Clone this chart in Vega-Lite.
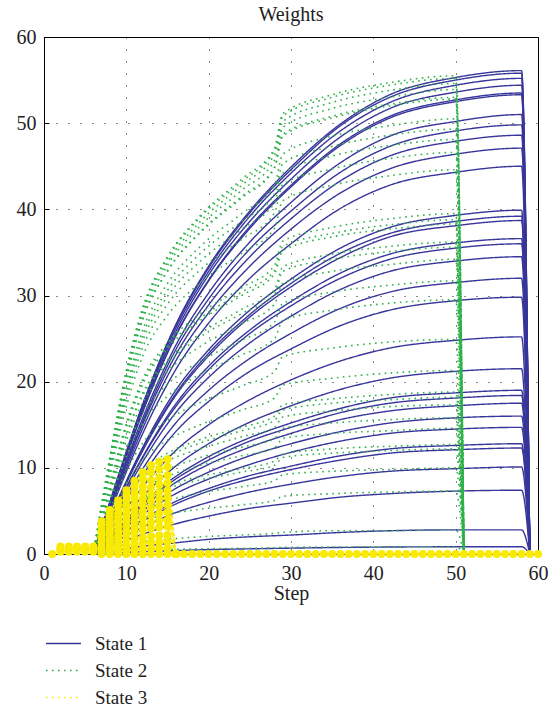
{
"$schema": "https://vega.github.io/schema/vega-lite/v6.json",
"width": 494, "height": 517,
"autosize": "none",
"padding": {"left": 44, "top": 37, "right": 19, "bottom": 155},
"background": "white",
"title": {"text": "Weights", "font": "Liberation Serif", "fontSize": 20, "fontWeight": "normal", "color": "#222", "offset": 2},
"datasets": {"d": [
{"s":1,"k":1,"x":6,"y":0},{"s":1,"k":1,"x":9,"y":9.0},{"s":1,"k":1,"x":12,"y":17.4},{"s":1,"k":1,"x":16,"y":26.6},{"s":1,"k":1,"x":20,"y":33.4},{"s":1,"k":1,"x":25,"y":39.8},{"s":1,"k":1,"x":30,"y":44.9},{"s":1,"k":1,"x":36,"y":49.9},{"s":1,"k":1,"x":42,"y":53.3},{"s":1,"k":1,"x":50,"y":55.3},{"s":1,"k":1,"x":58,"y":56.1},{"s":1,"k":1,"x":59,"y":0},
{"s":1,"k":2,"x":6,"y":0},{"s":1,"k":2,"x":9,"y":8.9},{"s":1,"k":2,"x":12,"y":17.3},{"s":1,"k":2,"x":16,"y":26.5},{"s":1,"k":2,"x":20,"y":33.2},{"s":1,"k":2,"x":25,"y":39.6},{"s":1,"k":2,"x":30,"y":44.6},{"s":1,"k":2,"x":36,"y":49.7},{"s":1,"k":2,"x":42,"y":53.0},{"s":1,"k":2,"x":50,"y":55.0},{"s":1,"k":2,"x":58,"y":55.8},{"s":1,"k":2,"x":59,"y":0},
{"s":1,"k":3,"x":6,"y":0},{"s":1,"k":3,"x":9,"y":8.8},{"s":1,"k":3,"x":12,"y":17.1},{"s":1,"k":3,"x":16,"y":26.2},{"s":1,"k":3,"x":20,"y":32.8},{"s":1,"k":3,"x":25,"y":39.2},{"s":1,"k":3,"x":30,"y":44.2},{"s":1,"k":3,"x":36,"y":49.1},{"s":1,"k":3,"x":42,"y":52.4},{"s":1,"k":3,"x":50,"y":54.4},{"s":1,"k":3,"x":58,"y":55.2},{"s":1,"k":3,"x":59,"y":0},
{"s":1,"k":4,"x":6,"y":0},{"s":1,"k":4,"x":9,"y":8.7},{"s":1,"k":4,"x":12,"y":16.9},{"s":1,"k":4,"x":16,"y":25.8},{"s":1,"k":4,"x":20,"y":32.4},{"s":1,"k":4,"x":25,"y":38.6},{"s":1,"k":4,"x":30,"y":43.5},{"s":1,"k":4,"x":36,"y":48.4},{"s":1,"k":4,"x":42,"y":51.7},{"s":1,"k":4,"x":50,"y":53.6},{"s":1,"k":4,"x":58,"y":54.4},{"s":1,"k":4,"x":59,"y":0},
{"s":1,"k":5,"x":6,"y":0},{"s":1,"k":5,"x":9,"y":8.6},{"s":1,"k":5,"x":12,"y":16.6},{"s":1,"k":5,"x":16,"y":25.4},{"s":1,"k":5,"x":20,"y":31.8},{"s":1,"k":5,"x":25,"y":38.0},{"s":1,"k":5,"x":30,"y":42.8},{"s":1,"k":5,"x":36,"y":47.6},{"s":1,"k":5,"x":42,"y":50.8},{"s":1,"k":5,"x":50,"y":52.7},{"s":1,"k":5,"x":58,"y":53.5},{"s":1,"k":5,"x":59,"y":0},
{"s":1,"k":6,"x":6,"y":0},{"s":1,"k":6,"x":9,"y":8.5},{"s":1,"k":6,"x":12,"y":16.5},{"s":1,"k":6,"x":16,"y":25.3},{"s":1,"k":6,"x":20,"y":31.7},{"s":1,"k":6,"x":25,"y":37.8},{"s":1,"k":6,"x":30,"y":42.6},{"s":1,"k":6,"x":36,"y":47.4},{"s":1,"k":6,"x":42,"y":50.6},{"s":1,"k":6,"x":50,"y":52.5},{"s":1,"k":6,"x":58,"y":53.3},{"s":1,"k":6,"x":59,"y":0},
{"s":1,"k":7,"x":6,"y":0},{"s":1,"k":7,"x":9,"y":8.2},{"s":1,"k":7,"x":12,"y":15.8},{"s":1,"k":7,"x":16,"y":24.2},{"s":1,"k":7,"x":20,"y":30.3},{"s":1,"k":7,"x":25,"y":36.2},{"s":1,"k":7,"x":30,"y":40.8},{"s":1,"k":7,"x":36,"y":45.4},{"s":1,"k":7,"x":42,"y":48.5},{"s":1,"k":7,"x":50,"y":50.2},{"s":1,"k":7,"x":58,"y":51.0},{"s":1,"k":7,"x":59,"y":0},
{"s":1,"k":8,"x":6,"y":0},{"s":1,"k":8,"x":9,"y":8.0},{"s":1,"k":8,"x":12,"y":15.4},{"s":1,"k":8,"x":16,"y":23.7},{"s":1,"k":8,"x":20,"y":29.6},{"s":1,"k":8,"x":25,"y":35.4},{"s":1,"k":8,"x":30,"y":39.8},{"s":1,"k":8,"x":36,"y":44.3},{"s":1,"k":8,"x":42,"y":47.3},{"s":1,"k":8,"x":50,"y":49.1},{"s":1,"k":8,"x":58,"y":49.8},{"s":1,"k":8,"x":59,"y":0},
{"s":1,"k":9,"x":6,"y":0},{"s":1,"k":9,"x":9,"y":7.8},{"s":1,"k":9,"x":12,"y":15.1},{"s":1,"k":9,"x":16,"y":23.1},{"s":1,"k":9,"x":20,"y":28.9},{"s":1,"k":9,"x":25,"y":34.5},{"s":1,"k":9,"x":30,"y":38.9},{"s":1,"k":9,"x":36,"y":43.3},{"s":1,"k":9,"x":42,"y":46.2},{"s":1,"k":9,"x":50,"y":47.9},{"s":1,"k":9,"x":58,"y":48.6},{"s":1,"k":9,"x":59,"y":0},
{"s":1,"k":10,"x":6,"y":0},{"s":1,"k":10,"x":9,"y":7.5},{"s":1,"k":10,"x":12,"y":14.6},{"s":1,"k":10,"x":16,"y":22.4},{"s":1,"k":10,"x":20,"y":28.0},{"s":1,"k":10,"x":25,"y":33.4},{"s":1,"k":10,"x":30,"y":37.7},{"s":1,"k":10,"x":36,"y":41.9},{"s":1,"k":10,"x":42,"y":44.7},{"s":1,"k":10,"x":50,"y":46.4},{"s":1,"k":10,"x":58,"y":47.1},{"s":1,"k":10,"x":59,"y":0},
{"s":1,"k":11,"x":6,"y":0},{"s":1,"k":11,"x":9,"y":7.2},{"s":1,"k":11,"x":12,"y":14.0},{"s":1,"k":11,"x":16,"y":21.4},{"s":1,"k":11,"x":20,"y":26.8},{"s":1,"k":11,"x":25,"y":32.0},{"s":1,"k":11,"x":30,"y":36.0},{"s":1,"k":11,"x":36,"y":40.1},{"s":1,"k":11,"x":42,"y":42.8},{"s":1,"k":11,"x":50,"y":44.3},{"s":1,"k":11,"x":58,"y":45.0},{"s":1,"k":11,"x":59,"y":0},
{"s":1,"k":12,"x":6,"y":0},{"s":1,"k":12,"x":9,"y":6.4},{"s":1,"k":12,"x":12,"y":12.4},{"s":1,"k":12,"x":16,"y":19.0},{"s":1,"k":12,"x":20,"y":23.7},{"s":1,"k":12,"x":25,"y":28.3},{"s":1,"k":12,"x":30,"y":31.9},{"s":1,"k":12,"x":36,"y":35.5},{"s":1,"k":12,"x":42,"y":37.9},{"s":1,"k":12,"x":50,"y":39.3},{"s":1,"k":12,"x":58,"y":39.9},{"s":1,"k":12,"x":59,"y":0},
{"s":1,"k":13,"x":6,"y":0},{"s":1,"k":13,"x":9,"y":6.3},{"s":1,"k":13,"x":12,"y":12.2},{"s":1,"k":13,"x":16,"y":18.6},{"s":1,"k":13,"x":20,"y":23.3},{"s":1,"k":13,"x":25,"y":27.8},{"s":1,"k":13,"x":30,"y":31.4},{"s":1,"k":13,"x":36,"y":34.9},{"s":1,"k":13,"x":42,"y":37.2},{"s":1,"k":13,"x":50,"y":38.6},{"s":1,"k":13,"x":58,"y":39.2},{"s":1,"k":13,"x":59,"y":0},
{"s":1,"k":14,"x":6,"y":0},{"s":1,"k":14,"x":9,"y":6.2},{"s":1,"k":14,"x":12,"y":12.0},{"s":1,"k":14,"x":16,"y":18.4},{"s":1,"k":14,"x":20,"y":23.0},{"s":1,"k":14,"x":25,"y":27.5},{"s":1,"k":14,"x":30,"y":31.0},{"s":1,"k":14,"x":36,"y":34.4},{"s":1,"k":14,"x":42,"y":36.8},{"s":1,"k":14,"x":50,"y":38.1},{"s":1,"k":14,"x":58,"y":38.7},{"s":1,"k":14,"x":59,"y":0},
{"s":1,"k":15,"x":6,"y":0},{"s":1,"k":15,"x":9,"y":5.9},{"s":1,"k":15,"x":12,"y":11.3},{"s":1,"k":15,"x":16,"y":17.4},{"s":1,"k":15,"x":20,"y":21.8},{"s":1,"k":15,"x":25,"y":26.0},{"s":1,"k":15,"x":30,"y":29.3},{"s":1,"k":15,"x":36,"y":32.6},{"s":1,"k":15,"x":42,"y":34.8},{"s":1,"k":15,"x":50,"y":36.1},{"s":1,"k":15,"x":58,"y":36.6},{"s":1,"k":15,"x":59,"y":0},
{"s":1,"k":16,"x":6,"y":0},{"s":1,"k":16,"x":9,"y":5.8},{"s":1,"k":16,"x":12,"y":11.2},{"s":1,"k":16,"x":16,"y":17.1},{"s":1,"k":16,"x":20,"y":21.4},{"s":1,"k":16,"x":25,"y":25.6},{"s":1,"k":16,"x":30,"y":28.8},{"s":1,"k":16,"x":36,"y":32.0},{"s":1,"k":16,"x":42,"y":34.2},{"s":1,"k":16,"x":50,"y":35.5},{"s":1,"k":16,"x":58,"y":36.0},{"s":1,"k":16,"x":59,"y":0},
{"s":1,"k":17,"x":6,"y":0},{"s":1,"k":17,"x":9,"y":5.5},{"s":1,"k":17,"x":12,"y":10.7},{"s":1,"k":17,"x":16,"y":16.4},{"s":1,"k":17,"x":20,"y":20.5},{"s":1,"k":17,"x":25,"y":24.5},{"s":1,"k":17,"x":30,"y":27.6},{"s":1,"k":17,"x":36,"y":30.7},{"s":1,"k":17,"x":42,"y":32.8},{"s":1,"k":17,"x":50,"y":34.0},{"s":1,"k":17,"x":58,"y":34.5},{"s":1,"k":17,"x":59,"y":0},
{"s":1,"k":18,"x":6,"y":0},{"s":1,"k":18,"x":9,"y":5.1},{"s":1,"k":18,"x":12,"y":9.9},{"s":1,"k":18,"x":16,"y":15.2},{"s":1,"k":18,"x":20,"y":19.0},{"s":1,"k":18,"x":25,"y":22.7},{"s":1,"k":18,"x":30,"y":25.6},{"s":1,"k":18,"x":36,"y":28.5},{"s":1,"k":18,"x":42,"y":30.4},{"s":1,"k":18,"x":50,"y":31.5},{"s":1,"k":18,"x":58,"y":32.0},{"s":1,"k":18,"x":59,"y":0},
{"s":1,"k":19,"x":6,"y":0},{"s":1,"k":19,"x":9,"y":4.8},{"s":1,"k":19,"x":12,"y":9.2},{"s":1,"k":19,"x":16,"y":14.2},{"s":1,"k":19,"x":20,"y":17.7},{"s":1,"k":19,"x":25,"y":21.2},{"s":1,"k":19,"x":30,"y":23.8},{"s":1,"k":19,"x":36,"y":26.5},{"s":1,"k":19,"x":42,"y":28.3},{"s":1,"k":19,"x":50,"y":29.4},{"s":1,"k":19,"x":58,"y":29.8},{"s":1,"k":19,"x":59,"y":0},
{"s":1,"k":20,"x":6,"y":0},{"s":1,"k":20,"x":9,"y":4.0},{"s":1,"k":20,"x":12,"y":7.8},{"s":1,"k":20,"x":16,"y":12.0},{"s":1,"k":20,"x":20,"y":15.0},{"s":1,"k":20,"x":25,"y":17.9},{"s":1,"k":20,"x":30,"y":20.2},{"s":1,"k":20,"x":36,"y":22.4},{"s":1,"k":20,"x":42,"y":23.9},{"s":1,"k":20,"x":50,"y":24.8},{"s":1,"k":20,"x":58,"y":25.2},{"s":1,"k":20,"x":59,"y":0},
{"s":1,"k":21,"x":6,"y":0},{"s":1,"k":21,"x":9,"y":3.4},{"s":1,"k":21,"x":12,"y":6.7},{"s":1,"k":21,"x":16,"y":10.2},{"s":1,"k":21,"x":20,"y":12.8},{"s":1,"k":21,"x":25,"y":15.3},{"s":1,"k":21,"x":30,"y":17.2},{"s":1,"k":21,"x":36,"y":19.1},{"s":1,"k":21,"x":42,"y":20.4},{"s":1,"k":21,"x":50,"y":21.2},{"s":1,"k":21,"x":58,"y":21.5},{"s":1,"k":21,"x":59,"y":0},
{"s":1,"k":22,"x":6,"y":0},{"s":1,"k":22,"x":9,"y":3.0},{"s":1,"k":22,"x":12,"y":5.9},{"s":1,"k":22,"x":16,"y":9.0},{"s":1,"k":22,"x":20,"y":11.3},{"s":1,"k":22,"x":25,"y":13.5},{"s":1,"k":22,"x":30,"y":15.2},{"s":1,"k":22,"x":36,"y":16.9},{"s":1,"k":22,"x":42,"y":18.1},{"s":1,"k":22,"x":50,"y":18.7},{"s":1,"k":22,"x":58,"y":19.0},{"s":1,"k":22,"x":59,"y":0},
{"s":1,"k":23,"x":6,"y":0},{"s":1,"k":23,"x":9,"y":2.9},{"s":1,"k":23,"x":12,"y":5.7},{"s":1,"k":23,"x":16,"y":8.7},{"s":1,"k":23,"x":20,"y":10.9},{"s":1,"k":23,"x":25,"y":13.1},{"s":1,"k":23,"x":30,"y":14.7},{"s":1,"k":23,"x":36,"y":16.4},{"s":1,"k":23,"x":42,"y":17.5},{"s":1,"k":23,"x":50,"y":18.1},{"s":1,"k":23,"x":58,"y":18.4},{"s":1,"k":23,"x":59,"y":0},
{"s":1,"k":24,"x":6,"y":0},{"s":1,"k":24,"x":9,"y":2.8},{"s":1,"k":24,"x":12,"y":5.4},{"s":1,"k":24,"x":16,"y":8.3},{"s":1,"k":24,"x":20,"y":10.4},{"s":1,"k":24,"x":25,"y":12.4},{"s":1,"k":24,"x":30,"y":14.0},{"s":1,"k":24,"x":36,"y":15.6},{"s":1,"k":24,"x":42,"y":16.6},{"s":1,"k":24,"x":50,"y":17.2},{"s":1,"k":24,"x":58,"y":17.5},{"s":1,"k":24,"x":59,"y":0},
{"s":1,"k":25,"x":6,"y":0},{"s":1,"k":25,"x":9,"y":2.6},{"s":1,"k":25,"x":12,"y":5.0},{"s":1,"k":25,"x":16,"y":7.6},{"s":1,"k":25,"x":20,"y":9.5},{"s":1,"k":25,"x":25,"y":11.4},{"s":1,"k":25,"x":30,"y":12.8},{"s":1,"k":25,"x":36,"y":14.2},{"s":1,"k":25,"x":42,"y":15.2},{"s":1,"k":25,"x":50,"y":15.8},{"s":1,"k":25,"x":58,"y":16.0},{"s":1,"k":25,"x":59,"y":0},
{"s":1,"k":26,"x":6,"y":0},{"s":1,"k":26,"x":9,"y":2.4},{"s":1,"k":26,"x":12,"y":4.6},{"s":1,"k":26,"x":16,"y":7.0},{"s":1,"k":26,"x":20,"y":8.7},{"s":1,"k":26,"x":25,"y":10.4},{"s":1,"k":26,"x":30,"y":11.8},{"s":1,"k":26,"x":36,"y":13.1},{"s":1,"k":26,"x":42,"y":14.0},{"s":1,"k":26,"x":50,"y":14.5},{"s":1,"k":26,"x":58,"y":14.7},{"s":1,"k":26,"x":59,"y":0},
{"s":1,"k":27,"x":6,"y":0},{"s":1,"k":27,"x":9,"y":2.0},{"s":1,"k":27,"x":12,"y":4.0},{"s":1,"k":27,"x":16,"y":6.1},{"s":1,"k":27,"x":20,"y":7.6},{"s":1,"k":27,"x":25,"y":9.1},{"s":1,"k":27,"x":30,"y":10.2},{"s":1,"k":27,"x":36,"y":11.4},{"s":1,"k":27,"x":42,"y":12.2},{"s":1,"k":27,"x":50,"y":12.6},{"s":1,"k":27,"x":58,"y":12.8},{"s":1,"k":27,"x":59,"y":0},
{"s":1,"k":28,"x":6,"y":0},{"s":1,"k":28,"x":9,"y":2.0},{"s":1,"k":28,"x":12,"y":3.8},{"s":1,"k":28,"x":16,"y":5.8},{"s":1,"k":28,"x":20,"y":7.3},{"s":1,"k":28,"x":25,"y":8.7},{"s":1,"k":28,"x":30,"y":9.8},{"s":1,"k":28,"x":36,"y":10.9},{"s":1,"k":28,"x":42,"y":11.7},{"s":1,"k":28,"x":50,"y":12.1},{"s":1,"k":28,"x":58,"y":12.3},{"s":1,"k":28,"x":59,"y":0},
{"s":1,"k":29,"x":6,"y":0},{"s":1,"k":29,"x":9,"y":1.6},{"s":1,"k":29,"x":12,"y":3.1},{"s":1,"k":29,"x":16,"y":4.8},{"s":1,"k":29,"x":20,"y":6.0},{"s":1,"k":29,"x":25,"y":7.2},{"s":1,"k":29,"x":30,"y":8.1},{"s":1,"k":29,"x":36,"y":9.0},{"s":1,"k":29,"x":42,"y":9.6},{"s":1,"k":29,"x":50,"y":9.9},{"s":1,"k":29,"x":58,"y":10.1},{"s":1,"k":29,"x":59,"y":0},
{"s":1,"k":30,"x":6,"y":0},{"s":1,"k":30,"x":9,"y":1.2},{"s":1,"k":30,"x":12,"y":2.3},{"s":1,"k":30,"x":16,"y":3.5},{"s":1,"k":30,"x":20,"y":4.4},{"s":1,"k":30,"x":25,"y":5.3},{"s":1,"k":30,"x":30,"y":5.9},{"s":1,"k":30,"x":36,"y":6.6},{"s":1,"k":30,"x":42,"y":7.0},{"s":1,"k":30,"x":50,"y":7.3},{"s":1,"k":30,"x":58,"y":7.4},{"s":1,"k":30,"x":59,"y":0},
{"s":1,"k":31,"x":6,"y":0},{"s":1,"k":31,"x":9,"y":0.45},{"s":1,"k":31,"x":12,"y":0.9},{"s":1,"k":31,"x":16,"y":1.3},{"s":1,"k":31,"x":20,"y":1.7},{"s":1,"k":31,"x":25,"y":2.0},{"s":1,"k":31,"x":30,"y":2.2},{"s":1,"k":31,"x":36,"y":2.5},{"s":1,"k":31,"x":42,"y":2.7},{"s":1,"k":31,"x":50,"y":2.8},{"s":1,"k":31,"x":58,"y":2.8},{"s":1,"k":31,"x":59,"y":0},
{"s":1,"k":32,"x":6,"y":0},{"s":1,"k":32,"x":9,"y":0.14},{"s":1,"k":32,"x":12,"y":0.26},{"s":1,"k":32,"x":16,"y":0.4},{"s":1,"k":32,"x":20,"y":0.51},{"s":1,"k":32,"x":25,"y":0.6},{"s":1,"k":32,"x":30,"y":0.68},{"s":1,"k":32,"x":36,"y":0.76},{"s":1,"k":32,"x":42,"y":0.81},{"s":1,"k":32,"x":50,"y":0.84},{"s":1,"k":32,"x":58,"y":0.85},{"s":1,"k":32,"x":59,"y":0},

{"s":2,"k":1,"x":6,"y":0},{"s":2,"k":1,"x":8,"y":11.2},{"s":2,"k":1,"x":10,"y":21.3},{"s":2,"k":1,"x":12,"y":28.6},{"s":2,"k":1,"x":15,"y":34.5},{"s":2,"k":1,"x":19,"y":39.3},{"s":2,"k":1,"x":24,"y":43.5},{"s":2,"k":1,"x":28,"y":47.1},{"s":2,"k":1,"x":29,"y":51.1},{"s":2,"k":1,"x":35,"y":53.3},{"s":2,"k":1,"x":42,"y":54.7},{"s":2,"k":1,"x":50,"y":55.5},{"s":2,"k":1,"x":51,"y":0},
{"s":2,"k":2,"x":6,"y":0},{"s":2,"k":2,"x":8,"y":11.2},{"s":2,"k":2,"x":10,"y":21.2},{"s":2,"k":2,"x":12,"y":28.5},{"s":2,"k":2,"x":15,"y":34.3},{"s":2,"k":2,"x":19,"y":39.1},{"s":2,"k":2,"x":24,"y":43.2},{"s":2,"k":2,"x":28,"y":46.9},{"s":2,"k":2,"x":29,"y":50.8},{"s":2,"k":2,"x":35,"y":53.0},{"s":2,"k":2,"x":42,"y":54.4},{"s":2,"k":2,"x":50,"y":55.2},{"s":2,"k":2,"x":51,"y":0},
{"s":2,"k":3,"x":6,"y":0},{"s":2,"k":3,"x":8,"y":11.0},{"s":2,"k":3,"x":10,"y":21.0},{"s":2,"k":3,"x":12,"y":28.2},{"s":2,"k":3,"x":15,"y":33.9},{"s":2,"k":3,"x":19,"y":38.6},{"s":2,"k":3,"x":24,"y":42.8},{"s":2,"k":3,"x":28,"y":46.4},{"s":2,"k":3,"x":29,"y":50.2},{"s":2,"k":3,"x":35,"y":52.4},{"s":2,"k":3,"x":42,"y":53.8},{"s":2,"k":3,"x":50,"y":54.6},{"s":2,"k":3,"x":51,"y":0},
{"s":2,"k":4,"x":6,"y":0},{"s":2,"k":4,"x":8,"y":10.9},{"s":2,"k":4,"x":10,"y":20.7},{"s":2,"k":4,"x":12,"y":27.7},{"s":2,"k":4,"x":15,"y":33.5},{"s":2,"k":4,"x":19,"y":38.1},{"s":2,"k":4,"x":24,"y":42.2},{"s":2,"k":4,"x":28,"y":45.7},{"s":2,"k":4,"x":29,"y":49.5},{"s":2,"k":4,"x":35,"y":51.7},{"s":2,"k":4,"x":42,"y":53.0},{"s":2,"k":4,"x":50,"y":53.9},{"s":2,"k":4,"x":51,"y":0},
{"s":2,"k":5,"x":6,"y":0},{"s":2,"k":5,"x":8,"y":10.7},{"s":2,"k":5,"x":10,"y":20.3},{"s":2,"k":5,"x":12,"y":27.3},{"s":2,"k":5,"x":15,"y":32.9},{"s":2,"k":5,"x":19,"y":37.4},{"s":2,"k":5,"x":24,"y":41.5},{"s":2,"k":5,"x":28,"y":44.9},{"s":2,"k":5,"x":29,"y":48.7},{"s":2,"k":5,"x":35,"y":50.8},{"s":2,"k":5,"x":42,"y":52.2},{"s":2,"k":5,"x":50,"y":53.0},{"s":2,"k":5,"x":51,"y":0},
{"s":2,"k":6,"x":6,"y":0},{"s":2,"k":6,"x":8,"y":10.7},{"s":2,"k":6,"x":10,"y":20.3},{"s":2,"k":6,"x":12,"y":27.2},{"s":2,"k":6,"x":15,"y":32.8},{"s":2,"k":6,"x":19,"y":37.3},{"s":2,"k":6,"x":24,"y":41.3},{"s":2,"k":6,"x":28,"y":44.8},{"s":2,"k":6,"x":29,"y":48.5},{"s":2,"k":6,"x":35,"y":50.6},{"s":2,"k":6,"x":42,"y":52.0},{"s":2,"k":6,"x":50,"y":52.8},{"s":2,"k":6,"x":51,"y":0},
{"s":2,"k":7,"x":6,"y":0},{"s":2,"k":7,"x":8,"y":10.2},{"s":2,"k":7,"x":10,"y":19.4},{"s":2,"k":7,"x":12,"y":26.0},{"s":2,"k":7,"x":15,"y":31.4},{"s":2,"k":7,"x":19,"y":35.7},{"s":2,"k":7,"x":24,"y":39.5},{"s":2,"k":7,"x":28,"y":42.8},{"s":2,"k":7,"x":29,"y":46.4},{"s":2,"k":7,"x":35,"y":48.5},{"s":2,"k":7,"x":42,"y":49.7},{"s":2,"k":7,"x":50,"y":50.5},{"s":2,"k":7,"x":51,"y":0},
{"s":2,"k":8,"x":6,"y":0},{"s":2,"k":8,"x":8,"y":10.0},{"s":2,"k":8,"x":10,"y":18.9},{"s":2,"k":8,"x":12,"y":25.4},{"s":2,"k":8,"x":15,"y":30.6},{"s":2,"k":8,"x":19,"y":34.9},{"s":2,"k":8,"x":24,"y":38.6},{"s":2,"k":8,"x":28,"y":41.8},{"s":2,"k":8,"x":29,"y":45.3},{"s":2,"k":8,"x":35,"y":47.3},{"s":2,"k":8,"x":42,"y":48.6},{"s":2,"k":8,"x":50,"y":49.3},{"s":2,"k":8,"x":51,"y":0},
{"s":2,"k":9,"x":6,"y":0},{"s":2,"k":9,"x":8,"y":9.7},{"s":2,"k":9,"x":10,"y":18.5},{"s":2,"k":9,"x":12,"y":24.8},{"s":2,"k":9,"x":15,"y":29.9},{"s":2,"k":9,"x":19,"y":34.0},{"s":2,"k":9,"x":24,"y":37.7},{"s":2,"k":9,"x":28,"y":40.8},{"s":2,"k":9,"x":29,"y":44.2},{"s":2,"k":9,"x":35,"y":46.2},{"s":2,"k":9,"x":42,"y":47.4},{"s":2,"k":9,"x":50,"y":48.1},{"s":2,"k":9,"x":51,"y":0},
{"s":2,"k":10,"x":6,"y":0},{"s":2,"k":10,"x":8,"y":9.4},{"s":2,"k":10,"x":10,"y":17.9},{"s":2,"k":10,"x":12,"y":24.0},{"s":2,"k":10,"x":15,"y":29.0},{"s":2,"k":10,"x":19,"y":33.0},{"s":2,"k":10,"x":24,"y":36.5},{"s":2,"k":10,"x":28,"y":39.6},{"s":2,"k":10,"x":29,"y":42.9},{"s":2,"k":10,"x":35,"y":44.7},{"s":2,"k":10,"x":42,"y":45.9},{"s":2,"k":10,"x":50,"y":46.6},{"s":2,"k":10,"x":51,"y":0},
{"s":2,"k":11,"x":6,"y":0},{"s":2,"k":11,"x":8,"y":9.0},{"s":2,"k":11,"x":10,"y":17.1},{"s":2,"k":11,"x":12,"y":23.0},{"s":2,"k":11,"x":15,"y":27.7},{"s":2,"k":11,"x":19,"y":31.5},{"s":2,"k":11,"x":24,"y":34.9},{"s":2,"k":11,"x":28,"y":37.8},{"s":2,"k":11,"x":29,"y":41.0},{"s":2,"k":11,"x":35,"y":42.8},{"s":2,"k":11,"x":42,"y":43.9},{"s":2,"k":11,"x":50,"y":44.6},{"s":2,"k":11,"x":51,"y":0},
{"s":2,"k":12,"x":6,"y":0},{"s":2,"k":12,"x":8,"y":8.0},{"s":2,"k":12,"x":10,"y":15.2},{"s":2,"k":12,"x":12,"y":20.3},{"s":2,"k":12,"x":15,"y":24.5},{"s":2,"k":12,"x":19,"y":27.9},{"s":2,"k":12,"x":24,"y":30.9},{"s":2,"k":12,"x":28,"y":33.5},{"s":2,"k":12,"x":29,"y":36.3},{"s":2,"k":12,"x":35,"y":37.9},{"s":2,"k":12,"x":42,"y":38.9},{"s":2,"k":12,"x":50,"y":39.5},{"s":2,"k":12,"x":51,"y":0},
{"s":2,"k":13,"x":6,"y":0},{"s":2,"k":13,"x":8,"y":7.8},{"s":2,"k":13,"x":10,"y":14.9},{"s":2,"k":13,"x":12,"y":20.0},{"s":2,"k":13,"x":15,"y":24.1},{"s":2,"k":13,"x":19,"y":27.4},{"s":2,"k":13,"x":24,"y":30.4},{"s":2,"k":13,"x":28,"y":32.9},{"s":2,"k":13,"x":29,"y":35.7},{"s":2,"k":13,"x":35,"y":37.2},{"s":2,"k":13,"x":42,"y":38.2},{"s":2,"k":13,"x":50,"y":38.8},{"s":2,"k":13,"x":51,"y":0},
{"s":2,"k":14,"x":6,"y":0},{"s":2,"k":14,"x":8,"y":7.7},{"s":2,"k":14,"x":10,"y":14.7},{"s":2,"k":14,"x":12,"y":19.7},{"s":2,"k":14,"x":15,"y":23.8},{"s":2,"k":14,"x":19,"y":27.1},{"s":2,"k":14,"x":24,"y":30.0},{"s":2,"k":14,"x":28,"y":32.5},{"s":2,"k":14,"x":29,"y":35.2},{"s":2,"k":14,"x":35,"y":36.8},{"s":2,"k":14,"x":42,"y":37.7},{"s":2,"k":14,"x":50,"y":38.3},{"s":2,"k":14,"x":51,"y":0},
{"s":2,"k":15,"x":6,"y":0},{"s":2,"k":15,"x":8,"y":7.3},{"s":2,"k":15,"x":10,"y":13.9},{"s":2,"k":15,"x":12,"y":18.7},{"s":2,"k":15,"x":15,"y":22.5},{"s":2,"k":15,"x":19,"y":25.6},{"s":2,"k":15,"x":24,"y":28.4},{"s":2,"k":15,"x":28,"y":30.7},{"s":2,"k":15,"x":29,"y":33.3},{"s":2,"k":15,"x":35,"y":34.8},{"s":2,"k":15,"x":42,"y":35.7},{"s":2,"k":15,"x":50,"y":36.2},{"s":2,"k":15,"x":51,"y":0},
{"s":2,"k":16,"x":6,"y":0},{"s":2,"k":16,"x":8,"y":7.2},{"s":2,"k":16,"x":10,"y":13.7},{"s":2,"k":16,"x":12,"y":18.4},{"s":2,"k":16,"x":15,"y":22.1},{"s":2,"k":16,"x":19,"y":25.2},{"s":2,"k":16,"x":24,"y":27.9},{"s":2,"k":16,"x":28,"y":30.2},{"s":2,"k":16,"x":29,"y":32.8},{"s":2,"k":16,"x":35,"y":34.2},{"s":2,"k":16,"x":42,"y":35.1},{"s":2,"k":16,"x":50,"y":35.6},{"s":2,"k":16,"x":51,"y":0},
{"s":2,"k":17,"x":6,"y":0},{"s":2,"k":17,"x":8,"y":6.9},{"s":2,"k":17,"x":10,"y":13.1},{"s":2,"k":17,"x":12,"y":17.6},{"s":2,"k":17,"x":15,"y":21.2},{"s":2,"k":17,"x":19,"y":24.1},{"s":2,"k":17,"x":24,"y":26.7},{"s":2,"k":17,"x":28,"y":29.0},{"s":2,"k":17,"x":29,"y":31.4},{"s":2,"k":17,"x":35,"y":32.8},{"s":2,"k":17,"x":42,"y":33.6},{"s":2,"k":17,"x":50,"y":34.2},{"s":2,"k":17,"x":51,"y":0},
{"s":2,"k":18,"x":6,"y":0},{"s":2,"k":18,"x":8,"y":6.4},{"s":2,"k":18,"x":10,"y":12.2},{"s":2,"k":18,"x":12,"y":16.3},{"s":2,"k":18,"x":15,"y":19.7},{"s":2,"k":18,"x":19,"y":22.4},{"s":2,"k":18,"x":24,"y":24.8},{"s":2,"k":18,"x":28,"y":26.9},{"s":2,"k":18,"x":29,"y":29.1},{"s":2,"k":18,"x":35,"y":30.4},{"s":2,"k":18,"x":42,"y":31.2},{"s":2,"k":18,"x":50,"y":31.7},{"s":2,"k":18,"x":51,"y":0},
{"s":2,"k":19,"x":6,"y":0},{"s":2,"k":19,"x":8,"y":6.0},{"s":2,"k":19,"x":10,"y":11.3},{"s":2,"k":19,"x":12,"y":15.2},{"s":2,"k":19,"x":15,"y":18.3},{"s":2,"k":19,"x":19,"y":20.9},{"s":2,"k":19,"x":24,"y":23.1},{"s":2,"k":19,"x":28,"y":25.0},{"s":2,"k":19,"x":29,"y":27.1},{"s":2,"k":19,"x":35,"y":28.3},{"s":2,"k":19,"x":42,"y":29.1},{"s":2,"k":19,"x":50,"y":29.5},{"s":2,"k":19,"x":51,"y":0},
{"s":2,"k":20,"x":6,"y":0},{"s":2,"k":20,"x":8,"y":5.0},{"s":2,"k":20,"x":10,"y":9.6},{"s":2,"k":20,"x":12,"y":12.9},{"s":2,"k":20,"x":15,"y":15.5},{"s":2,"k":20,"x":19,"y":17.6},{"s":2,"k":20,"x":24,"y":19.5},{"s":2,"k":20,"x":28,"y":21.2},{"s":2,"k":20,"x":29,"y":22.9},{"s":2,"k":20,"x":35,"y":23.9},{"s":2,"k":20,"x":42,"y":24.6},{"s":2,"k":20,"x":50,"y":24.9},{"s":2,"k":20,"x":51,"y":0},
{"s":2,"k":21,"x":6,"y":0},{"s":2,"k":21,"x":8,"y":4.3},{"s":2,"k":21,"x":10,"y":8.2},{"s":2,"k":21,"x":12,"y":11.0},{"s":2,"k":21,"x":15,"y":13.2},{"s":2,"k":21,"x":19,"y":15.0},{"s":2,"k":21,"x":24,"y":16.7},{"s":2,"k":21,"x":28,"y":18.1},{"s":2,"k":21,"x":29,"y":19.6},{"s":2,"k":21,"x":35,"y":20.4},{"s":2,"k":21,"x":42,"y":21.0},{"s":2,"k":21,"x":50,"y":21.3},{"s":2,"k":21,"x":51,"y":0},
{"s":2,"k":22,"x":6,"y":0},{"s":2,"k":22,"x":8,"y":3.8},{"s":2,"k":22,"x":10,"y":7.2},{"s":2,"k":22,"x":12,"y":9.7},{"s":2,"k":22,"x":15,"y":11.7},{"s":2,"k":22,"x":19,"y":13.3},{"s":2,"k":22,"x":24,"y":14.7},{"s":2,"k":22,"x":28,"y":16.0},{"s":2,"k":22,"x":29,"y":17.3},{"s":2,"k":22,"x":35,"y":18.0},{"s":2,"k":22,"x":42,"y":18.5},{"s":2,"k":22,"x":50,"y":18.8},{"s":2,"k":22,"x":51,"y":0},
{"s":2,"k":23,"x":6,"y":0},{"s":2,"k":23,"x":8,"y":3.7},{"s":2,"k":23,"x":10,"y":7.0},{"s":2,"k":23,"x":12,"y":9.4},{"s":2,"k":23,"x":15,"y":11.3},{"s":2,"k":23,"x":19,"y":12.9},{"s":2,"k":23,"x":24,"y":14.3},{"s":2,"k":23,"x":28,"y":15.5},{"s":2,"k":23,"x":29,"y":16.7},{"s":2,"k":23,"x":35,"y":17.5},{"s":2,"k":23,"x":42,"y":17.9},{"s":2,"k":23,"x":50,"y":18.2},{"s":2,"k":23,"x":51,"y":0},
{"s":2,"k":24,"x":6,"y":0},{"s":2,"k":24,"x":8,"y":3.5},{"s":2,"k":24,"x":10,"y":6.6},{"s":2,"k":24,"x":12,"y":8.9},{"s":2,"k":24,"x":15,"y":10.8},{"s":2,"k":24,"x":19,"y":12.2},{"s":2,"k":24,"x":24,"y":13.6},{"s":2,"k":24,"x":28,"y":14.7},{"s":2,"k":24,"x":29,"y":15.9},{"s":2,"k":24,"x":35,"y":16.6},{"s":2,"k":24,"x":42,"y":17.1},{"s":2,"k":24,"x":50,"y":17.3},{"s":2,"k":24,"x":51,"y":0},
{"s":2,"k":25,"x":6,"y":0},{"s":2,"k":25,"x":8,"y":3.2},{"s":2,"k":25,"x":10,"y":6.1},{"s":2,"k":25,"x":12,"y":8.2},{"s":2,"k":25,"x":15,"y":9.8},{"s":2,"k":25,"x":19,"y":11.2},{"s":2,"k":25,"x":24,"y":12.4},{"s":2,"k":25,"x":28,"y":13.4},{"s":2,"k":25,"x":29,"y":14.6},{"s":2,"k":25,"x":35,"y":15.2},{"s":2,"k":25,"x":42,"y":15.6},{"s":2,"k":25,"x":50,"y":15.8},{"s":2,"k":25,"x":51,"y":0},
{"s":2,"k":26,"x":6,"y":0},{"s":2,"k":26,"x":8,"y":2.9},{"s":2,"k":26,"x":10,"y":5.6},{"s":2,"k":26,"x":12,"y":7.5},{"s":2,"k":26,"x":15,"y":9.0},{"s":2,"k":26,"x":19,"y":10.3},{"s":2,"k":26,"x":24,"y":11.4},{"s":2,"k":26,"x":28,"y":12.3},{"s":2,"k":26,"x":29,"y":13.4},{"s":2,"k":26,"x":35,"y":14.0},{"s":2,"k":26,"x":42,"y":14.3},{"s":2,"k":26,"x":50,"y":14.6},{"s":2,"k":26,"x":51,"y":0},
{"s":2,"k":27,"x":6,"y":0},{"s":2,"k":27,"x":8,"y":2.6},{"s":2,"k":27,"x":10,"y":4.9},{"s":2,"k":27,"x":12,"y":6.5},{"s":2,"k":27,"x":15,"y":7.9},{"s":2,"k":27,"x":19,"y":9.0},{"s":2,"k":27,"x":24,"y":9.9},{"s":2,"k":27,"x":28,"y":10.8},{"s":2,"k":27,"x":29,"y":11.6},{"s":2,"k":27,"x":35,"y":12.2},{"s":2,"k":27,"x":42,"y":12.5},{"s":2,"k":27,"x":50,"y":12.7},{"s":2,"k":27,"x":51,"y":0},
{"s":2,"k":28,"x":6,"y":0},{"s":2,"k":28,"x":8,"y":2.5},{"s":2,"k":28,"x":10,"y":4.7},{"s":2,"k":28,"x":12,"y":6.3},{"s":2,"k":28,"x":15,"y":7.6},{"s":2,"k":28,"x":19,"y":8.6},{"s":2,"k":28,"x":24,"y":9.5},{"s":2,"k":28,"x":28,"y":10.3},{"s":2,"k":28,"x":29,"y":11.2},{"s":2,"k":28,"x":35,"y":11.7},{"s":2,"k":28,"x":42,"y":12.0},{"s":2,"k":28,"x":50,"y":12.2},{"s":2,"k":28,"x":51,"y":0},
{"s":2,"k":29,"x":6,"y":0},{"s":2,"k":29,"x":8,"y":2.0},{"s":2,"k":29,"x":10,"y":3.8},{"s":2,"k":29,"x":12,"y":5.2},{"s":2,"k":29,"x":15,"y":6.2},{"s":2,"k":29,"x":19,"y":7.1},{"s":2,"k":29,"x":24,"y":7.8},{"s":2,"k":29,"x":28,"y":8.5},{"s":2,"k":29,"x":29,"y":9.2},{"s":2,"k":29,"x":35,"y":9.6},{"s":2,"k":29,"x":42,"y":9.8},{"s":2,"k":29,"x":50,"y":10.0},{"s":2,"k":29,"x":51,"y":0},
{"s":2,"k":30,"x":6,"y":0},{"s":2,"k":30,"x":8,"y":1.5},{"s":2,"k":30,"x":10,"y":2.8},{"s":2,"k":30,"x":12,"y":3.8},{"s":2,"k":30,"x":15,"y":4.6},{"s":2,"k":30,"x":19,"y":5.2},{"s":2,"k":30,"x":24,"y":5.7},{"s":2,"k":30,"x":28,"y":6.2},{"s":2,"k":30,"x":29,"y":6.7},{"s":2,"k":30,"x":35,"y":7.0},{"s":2,"k":30,"x":42,"y":7.2},{"s":2,"k":30,"x":50,"y":7.3},{"s":2,"k":30,"x":51,"y":0},
{"s":2,"k":31,"x":6,"y":0},{"s":2,"k":31,"x":8,"y":0.6},{"s":2,"k":31,"x":10,"y":1.1},{"s":2,"k":31,"x":12,"y":1.4},{"s":2,"k":31,"x":15,"y":1.7},{"s":2,"k":31,"x":19,"y":2.0},{"s":2,"k":31,"x":24,"y":2.2},{"s":2,"k":31,"x":28,"y":2.4},{"s":2,"k":31,"x":29,"y":2.5},{"s":2,"k":31,"x":35,"y":2.7},{"s":2,"k":31,"x":42,"y":2.7},{"s":2,"k":31,"x":50,"y":2.8},{"s":2,"k":31,"x":51,"y":0},
{"s":2,"k":32,"x":6,"y":0},{"s":2,"k":32,"x":8,"y":0.17},{"s":2,"k":32,"x":10,"y":0.32},{"s":2,"k":32,"x":12,"y":0.43},{"s":2,"k":32,"x":15,"y":0.52},{"s":2,"k":32,"x":19,"y":0.6},{"s":2,"k":32,"x":24,"y":0.66},{"s":2,"k":32,"x":28,"y":0.71},{"s":2,"k":32,"x":29,"y":0.77},{"s":2,"k":32,"x":35,"y":0.81},{"s":2,"k":32,"x":42,"y":0.83},{"s":2,"k":32,"x":50,"y":0.84},{"s":2,"k":32,"x":51,"y":0},

{"s":3,"k":1,"x":1,"y":0},{"s":3,"k":1,"x":2,"y":0.25},{"s":3,"k":1,"x":3,"y":0.25},{"s":3,"k":1,"x":4,"y":0.25},{"s":3,"k":1,"x":5,"y":0.25},{"s":3,"k":1,"x":6,"y":0.25},{"s":3,"k":1,"x":7,"y":0},{"s":3,"k":1,"x":8,"y":0},{"s":3,"k":1,"x":9,"y":0},{"s":3,"k":1,"x":10,"y":0},{"s":3,"k":1,"x":11,"y":0},{"s":3,"k":1,"x":12,"y":0},{"s":3,"k":1,"x":13,"y":0},{"s":3,"k":1,"x":14,"y":0},{"s":3,"k":1,"x":15,"y":0},{"s":3,"k":1,"x":16,"y":0},{"s":3,"k":1,"x":17,"y":0},{"s":3,"k":1,"x":18,"y":0},{"s":3,"k":1,"x":19,"y":0},{"s":3,"k":1,"x":20,"y":0},{"s":3,"k":1,"x":21,"y":0},{"s":3,"k":1,"x":22,"y":0},{"s":3,"k":1,"x":23,"y":0},{"s":3,"k":1,"x":24,"y":0},{"s":3,"k":1,"x":25,"y":0},{"s":3,"k":1,"x":26,"y":0},{"s":3,"k":1,"x":27,"y":0},{"s":3,"k":1,"x":28,"y":0},{"s":3,"k":1,"x":29,"y":0},{"s":3,"k":1,"x":30,"y":0},{"s":3,"k":1,"x":31,"y":0},{"s":3,"k":1,"x":32,"y":0},{"s":3,"k":1,"x":33,"y":0},{"s":3,"k":1,"x":34,"y":0},{"s":3,"k":1,"x":35,"y":0},{"s":3,"k":1,"x":36,"y":0},{"s":3,"k":1,"x":37,"y":0},{"s":3,"k":1,"x":38,"y":0},{"s":3,"k":1,"x":39,"y":0},{"s":3,"k":1,"x":40,"y":0},{"s":3,"k":1,"x":41,"y":0},{"s":3,"k":1,"x":42,"y":0},{"s":3,"k":1,"x":43,"y":0},{"s":3,"k":1,"x":44,"y":0},{"s":3,"k":1,"x":45,"y":0},{"s":3,"k":1,"x":46,"y":0},{"s":3,"k":1,"x":47,"y":0},{"s":3,"k":1,"x":48,"y":0},{"s":3,"k":1,"x":49,"y":0},{"s":3,"k":1,"x":50,"y":0},{"s":3,"k":1,"x":51,"y":0},{"s":3,"k":1,"x":52,"y":0},{"s":3,"k":1,"x":53,"y":0},{"s":3,"k":1,"x":54,"y":0},{"s":3,"k":1,"x":55,"y":0},{"s":3,"k":1,"x":56,"y":0},{"s":3,"k":1,"x":57,"y":0},{"s":3,"k":1,"x":58,"y":0},{"s":3,"k":1,"x":59,"y":0},{"s":3,"k":1,"x":60,"y":0},
{"s":3,"k":2,"x":7,"y":0.23},{"s":3,"k":2,"x":8,"y":0.31},{"s":3,"k":2,"x":9,"y":0.37},{"s":3,"k":2,"x":10,"y":0.44},{"s":3,"k":2,"x":11,"y":0.51},{"s":3,"k":2,"x":12,"y":0.57},{"s":3,"k":2,"x":13,"y":0.62},{"s":3,"k":2,"x":14,"y":0.64},{"s":3,"k":2,"x":15,"y":0.66},{"s":3,"k":2,"x":16,"y":0},
{"s":3,"k":3,"x":7,"y":0.49},{"s":3,"k":3,"x":8,"y":0.66},{"s":3,"k":3,"x":9,"y":0.81},{"s":3,"k":3,"x":10,"y":0.96},{"s":3,"k":3,"x":11,"y":1.11},{"s":3,"k":3,"x":12,"y":1.24},{"s":3,"k":3,"x":13,"y":1.34},{"s":3,"k":3,"x":14,"y":1.39},{"s":3,"k":3,"x":15,"y":1.43},{"s":3,"k":3,"x":16,"y":0},
{"s":3,"k":4,"x":2,"y":0.45},{"s":3,"k":4,"x":3,"y":0.45},{"s":3,"k":4,"x":4,"y":0.45},{"s":3,"k":4,"x":5,"y":0.45},{"s":3,"k":4,"x":6,"y":0.45},{"s":3,"k":4,"x":7,"y":0.76},{"s":3,"k":4,"x":8,"y":1.02},{"s":3,"k":4,"x":9,"y":1.24},{"s":3,"k":4,"x":10,"y":1.48},{"s":3,"k":4,"x":11,"y":1.7},{"s":3,"k":4,"x":12,"y":1.9},{"s":3,"k":4,"x":13,"y":2.06},{"s":3,"k":4,"x":14,"y":2.14},{"s":3,"k":4,"x":15,"y":2.2},{"s":3,"k":4,"x":16,"y":0},
{"s":3,"k":5,"x":7,"y":1.1},{"s":3,"k":5,"x":8,"y":1.48},{"s":3,"k":5,"x":9,"y":1.8},{"s":3,"k":5,"x":10,"y":2.15},{"s":3,"k":5,"x":11,"y":2.47},{"s":3,"k":5,"x":12,"y":2.76},{"s":3,"k":5,"x":13,"y":2.99},{"s":3,"k":5,"x":14,"y":3.1},{"s":3,"k":5,"x":15,"y":3.19},{"s":3,"k":5,"x":16,"y":0},
{"s":3,"k":6,"x":7,"y":1.37},{"s":3,"k":6,"x":8,"y":1.84},{"s":3,"k":6,"x":9,"y":2.23},{"s":3,"k":6,"x":10,"y":2.66},{"s":3,"k":6,"x":11,"y":3.06},{"s":3,"k":6,"x":12,"y":3.42},{"s":3,"k":6,"x":13,"y":3.71},{"s":3,"k":6,"x":14,"y":3.85},{"s":3,"k":6,"x":15,"y":3.96},{"s":3,"k":6,"x":16,"y":0},
{"s":3,"k":7,"x":7,"y":1.67},{"s":3,"k":7,"x":8,"y":2.24},{"s":3,"k":7,"x":9,"y":2.73},{"s":3,"k":7,"x":10,"y":3.26},{"s":3,"k":7,"x":11,"y":3.74},{"s":3,"k":7,"x":12,"y":4.18},{"s":3,"k":7,"x":13,"y":4.53},{"s":3,"k":7,"x":14,"y":4.71},{"s":3,"k":7,"x":15,"y":4.84},{"s":3,"k":7,"x":16,"y":0},
{"s":3,"k":8,"x":2,"y":0.65},{"s":3,"k":8,"x":3,"y":0.65},{"s":3,"k":8,"x":4,"y":0.65},{"s":3,"k":8,"x":5,"y":0.65},{"s":3,"k":8,"x":6,"y":0.65},{"s":3,"k":8,"x":7,"y":1.98},{"s":3,"k":8,"x":8,"y":2.65},{"s":3,"k":8,"x":9,"y":3.22},{"s":3,"k":8,"x":10,"y":3.85},{"s":3,"k":8,"x":11,"y":4.42},{"s":3,"k":8,"x":12,"y":4.94},{"s":3,"k":8,"x":13,"y":5.36},{"s":3,"k":8,"x":14,"y":5.56},{"s":3,"k":8,"x":15,"y":5.72},{"s":3,"k":8,"x":16,"y":0},
{"s":3,"k":9,"x":7,"y":2.28},{"s":3,"k":9,"x":8,"y":3.06},{"s":3,"k":9,"x":9,"y":3.72},{"s":3,"k":9,"x":10,"y":4.44},{"s":3,"k":9,"x":11,"y":5.1},{"s":3,"k":9,"x":12,"y":5.7},{"s":3,"k":9,"x":13,"y":6.18},{"s":3,"k":9,"x":14,"y":6.42},{"s":3,"k":9,"x":15,"y":6.6},{"s":3,"k":9,"x":16,"y":0},
{"s":3,"k":10,"x":7,"y":2.55},{"s":3,"k":10,"x":8,"y":3.42},{"s":3,"k":10,"x":9,"y":4.15},{"s":3,"k":10,"x":10,"y":4.96},{"s":3,"k":10,"x":11,"y":5.7},{"s":3,"k":10,"x":12,"y":6.37},{"s":3,"k":10,"x":13,"y":6.9},{"s":3,"k":10,"x":14,"y":7.17},{"s":3,"k":10,"x":15,"y":7.37},{"s":3,"k":10,"x":16,"y":0},
{"s":3,"k":11,"x":7,"y":2.85},{"s":3,"k":11,"x":8,"y":3.83},{"s":3,"k":11,"x":9,"y":4.65},{"s":3,"k":11,"x":10,"y":5.55},{"s":3,"k":11,"x":11,"y":6.38},{"s":3,"k":11,"x":12,"y":7.13},{"s":3,"k":11,"x":13,"y":7.73},{"s":3,"k":11,"x":14,"y":8.03},{"s":3,"k":11,"x":15,"y":8.25},{"s":3,"k":11,"x":16,"y":0},
{"s":3,"k":12,"x":7,"y":3.15},{"s":3,"k":12,"x":8,"y":4.23},{"s":3,"k":12,"x":9,"y":5.15},{"s":3,"k":12,"x":10,"y":6.14},{"s":3,"k":12,"x":11,"y":7.06},{"s":3,"k":12,"x":12,"y":7.89},{"s":3,"k":12,"x":13,"y":8.55},{"s":3,"k":12,"x":14,"y":8.88},{"s":3,"k":12,"x":15,"y":9.13},{"s":3,"k":12,"x":16,"y":0},
{"s":3,"k":13,"x":7,"y":3.5},{"s":3,"k":13,"x":8,"y":4.69},{"s":3,"k":13,"x":9,"y":5.7},{"s":3,"k":13,"x":10,"y":6.81},{"s":3,"k":13,"x":11,"y":7.82},{"s":3,"k":13,"x":12,"y":8.74},{"s":3,"k":13,"x":13,"y":9.48},{"s":3,"k":13,"x":14,"y":9.84},{"s":3,"k":13,"x":15,"y":10.12},{"s":3,"k":13,"x":16,"y":0},
{"s":3,"k":14,"x":2,"y":0.86},{"s":3,"k":14,"x":3,"y":0.86},{"s":3,"k":14,"x":4,"y":0.86},{"s":3,"k":14,"x":5,"y":0.86},{"s":3,"k":14,"x":6,"y":0.86},{"s":3,"k":14,"x":7,"y":3.8},{"s":3,"k":14,"x":8,"y":5.1},{"s":3,"k":14,"x":9,"y":6.2},{"s":3,"k":14,"x":10,"y":7.4},{"s":3,"k":14,"x":11,"y":8.5},{"s":3,"k":14,"x":12,"y":9.5},{"s":3,"k":14,"x":13,"y":10.3},{"s":3,"k":14,"x":14,"y":10.7},{"s":3,"k":14,"x":15,"y":11.0},{"s":3,"k":14,"x":16,"y":0}
]},
"data": {"name": "d"},
"encoding": {
  "x": {"field": "x", "type": "quantitative", "scale": {"domain": [0, 60], "nice": false, "zero": false},
        "axis": {"values": [0,10,20,30,40,50,60], "title": "Step", "titleFont": "Liberation Serif", "titleFontSize": 20, "titleFontWeight": "normal", "titleColor": "#222", "titlePadding": 0,
                 "labelFont": "Liberation Serif", "labelFontSize": 20, "labelColor": "#222", "labelPadding": 14, "labelFlush": false, "labelOverlap": false,
                 "tickSize": -5, "tickColor": "#000", "domain": false, "grid": true, "gridColor": "#000", "gridDash": [1, 11], "gridOpacity": 0.9}},
  "y": {"field": "y", "type": "quantitative", "scale": {"domain": [0, 60], "nice": false, "zero": false},
        "axis": {"values": [0,10,20,30,40,50,60], "title": null,
                 "labelFont": "Liberation Serif", "labelFontSize": 20, "labelColor": "#222", "labelPadding": 13, "labelFlush": false, "labelOverlap": false,
                 "tickSize": -5, "tickColor": "#000", "domain": false, "grid": true, "gridColor": "#000", "gridDash": [1, 11], "gridOpacity": 0.9}}
},
"layer": [
  {"transform": [{"filter": "datum.s == 1"}],
   "mark": {"type": "line", "interpolate": "monotone", "strokeWidth": 1.4},
   "encoding": {"detail": {"field": "k", "type": "nominal"},
     "color": {"field": "s", "type": "nominal", "scale": {"domain": [1, 2, 3], "range": ["#38369a", "#2eb14a", "#f8ea00"]},
               "legend": {"title": null, "labelExpr": "'State ' + datum.label", "orient": "none", "legendX": 1, "legendY": 593, "direction": "vertical"}},
     "strokeDash": {"field": "s", "type": "nominal", "scale": {"domain": [1, 2, 3], "range": [[1, 0], [1.6, 4.4], [1.6, 4.4]]},
               "legend": {"title": null, "labelExpr": "'State ' + datum.label", "orient": "none", "legendX": 1, "legendY": 593, "direction": "vertical"}}}},
  {"transform": [{"filter": "datum.s == 2"}],
   "mark": {"type": "line", "interpolate": "monotone", "strokeWidth": 1.6},
   "encoding": {"detail": {"field": "k", "type": "nominal"},
     "color": {"field": "s", "type": "nominal"},
     "strokeDash": {"field": "s", "type": "nominal"}}},
  {"transform": [{"filter": "datum.s == 3"}],
   "mark": {"type": "line", "strokeWidth": 1.4},
   "encoding": {"detail": {"field": "k", "type": "nominal"},
     "color": {"field": "s", "type": "nominal"},
     "strokeDash": {"field": "s", "type": "nominal"}}},
  {"transform": [{"filter": "datum.s == 3"}],
   "mark": {"type": "circle", "size": 64, "opacity": 1, "color": "#f8ea00"}}
],
"config": {
  "view": {"stroke": "#000", "strokeWidth": 1},
  "font": "Liberation Serif",
  "legend": {"symbolType": "stroke", "symbolSize": 1225, "symbolStrokeWidth": 1.5, "labelFont": "Liberation Serif", "labelFontSize": 19, "labelColor": "#222", "labelOffset": 13, "clipHeight": 27, "rowPadding": 0, "padding": 0}
}
}
